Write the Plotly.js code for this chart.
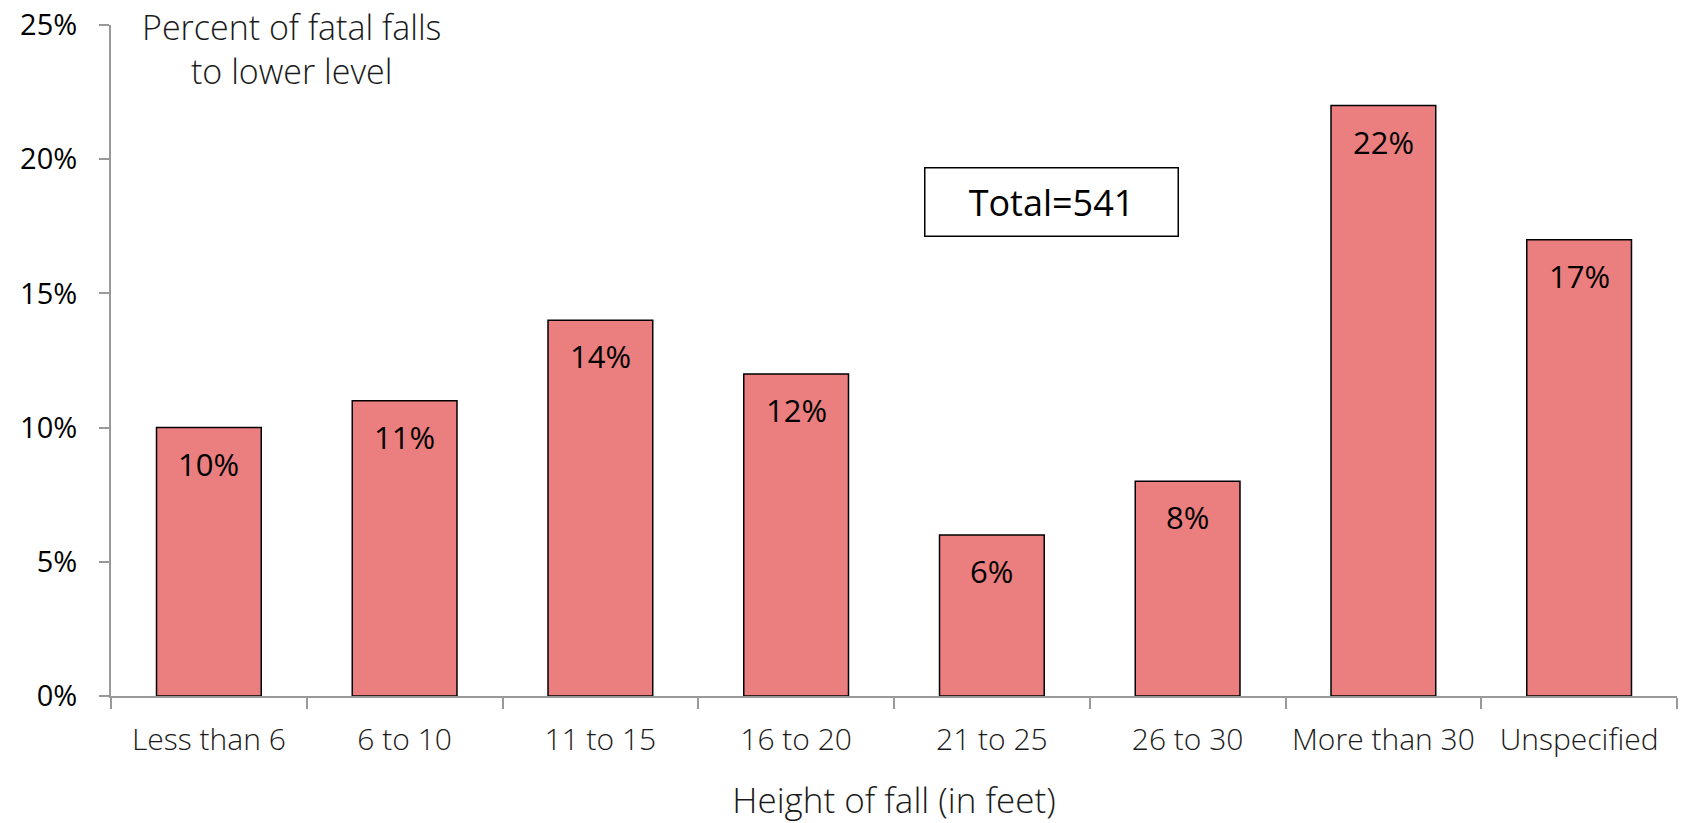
<!DOCTYPE html>
<html>
<head>
<meta charset="utf-8">
<script src="https://cdn.plot.ly/plotly-3.0.1.min.js"></script>
<style>html,body{margin:0;padding:0;background:#fff;}#chart{width:1681px;height:823px;}</style>
</head>
<body>
<div id="chart"></div>
<script>
const categories = ["Less than 6", "6 to 10", "11 to 15", "16 to 20", "21 to 25", "26 to 30", "More than 30", "Unspecified"];
const percents = [10, 11, 14, 12, 6, 8, 22, 17];
const yTickValues = [0, 5, 10, 15, 20, 25];
const yTickLabels = ["0%", "5%", "10%", "15%", "20%", "25%"];
const totalLabel = "Total=541";
const yLabel = "Percent of fatal falls<br>to lower level";
const xLabel = "Height of fall (in feet)";

const thinFont = {family: "Open Sans, Lato, sans-serif", size: 30, color: "#1a1a1a", weight: 300};
const normFont = {family: "Open Sans, Lato, sans-serif", size: 29, color: "#000", weight: 500};

const trace = {
  type: "bar",
  x: categories,
  y: percents,
  width: 0.535,
  marker: {color: "#EB7F7F", line: {color: "#000", width: 1.5}},
  hoverinfo: "x+y"
};

const valueAnnotations = categories.map((c, i) => ({
  x: c, y: percents[i], xref: "x", yref: "y",
  text: percents[i] + "%", showarrow: false,
  yanchor: "top", yshift: -13,
  font: {family: "Open Sans, sans-serif", size: 31, color: "#000"}
}));

const layout = {
  width: 1681, height: 823,
  margin: {l: 111, r: 4, t: 25, b: 127},
  paper_bgcolor: "#fff", plot_bgcolor: "#fff",
  showlegend: false,
  xaxis: {
    type: "category",
    range: [-0.5, categories.length - 0.5],
    showline: true, linecolor: "#999", linewidth: 2,
    ticks: "outside", tickson: "boundaries", ticklen: 11, tickcolor: "#999", tickwidth: 2,
    showgrid: false, zeroline: false,
    tickfont: thinFont,
    ticklabelstandoff: 16,
    title: {text: xLabel, font: {family: "Open Sans, Lato, sans-serif", size: 35, color: "#1a1a1a", weight: 300}, standoff: 30}
  },
  yaxis: {
    range: [0, 25],
    tickvals: yTickValues, ticktext: yTickLabels,
    showline: true, linecolor: "#999", linewidth: 2,
    ticks: "outside", ticklen: 10, tickcolor: "#999", tickwidth: 2,
    showgrid: false, zeroline: false,
    tickfont: normFont,
    ticklabelstandoff: 16
  },
  annotations: valueAnnotations.concat([
    {
      xref: "paper", yref: "paper", x: 0.115, y: 1.034,
      xanchor: "center", yanchor: "top",
      text: yLabel, showarrow: false, align: "center",
      font: {family: "Open Sans, Lato, sans-serif", size: 34, color: "#1a1a1a", weight: 300}
    },
    {
      xref: "paper", yref: "paper", x: 0.6003, y: 0.7366,
      xanchor: "center", yanchor: "middle",
      text: totalLabel, showarrow: false,
      width: 252, height: 67, borderpad: 0,
      bordercolor: "#000", borderwidth: 1.5, bgcolor: "#fff",
      font: {family: "Open Sans, sans-serif", size: 36, color: "#000"}
    }
  ])
};

Plotly.newPlot("chart", [trace], layout, {displayModeBar: false, staticPlot: true});
</script>
</body>
</html>
